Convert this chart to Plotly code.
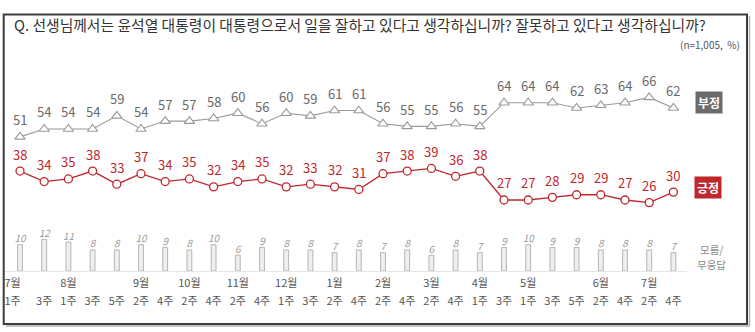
import plotly.graph_objects as go

# Survey waves (month / week of month)
months = ["7월", "", "8월", "", "", "9월", "", "10월", "", "11월", "", "12월", "", "1월", "",
          "2월", "", "3월", "", "4월", "", "5월", "", "", "6월", "", "7월", ""]
weeks = ["1주", "3주", "1주", "3주", "5주", "2주", "4주", "2주", "4주", "2주", "4주", "1주", "3주", "2주", "4주",
         "2주", "4주", "2주", "4주", "1주", "3주", "1주", "3주", "5주", "2주", "4주", "2주", "4주"]

# Job rating, %
negative = [51, 54, 54, 54, 59, 54, 57, 57, 58, 60, 56, 60, 59, 61, 61,
            56, 55, 55, 56, 55, 64, 64, 64, 62, 63, 64, 66, 62]
positive = [38, 34, 35, 38, 33, 37, 34, 35, 32, 34, 35, 32, 33, 32, 31,
            37, 38, 39, 36, 38, 27, 27, 28, 29, 29, 27, 26, 30]
unknown = [10, 12, 11, 8, 8, 10, 9, 8, 10, 6, 9, 8, 8, 7, 8,
           7, 8, 6, 8, 7, 9, 10, 9, 9, 8, 8, 8, 7]

W, H = 755, 332
L, R, T, B = 4, 68, 0, 61
PW, PH = W - L - R, H - T - B
X0, DX = 20, 24.2          # pixel position of first wave, spacing
PX_PER_UNIT = 2.63

FONT = "Noto Sans CJK KR"
GRAY_LINE = "#9a9a9a"
GRAY_TEXT = "#6a6a6a"
RED = "#c0272d"
TICK_COLOR = "#555555"

x = list(range(len(weeks)))
NB = "\u00a0" * 6  # pads the first tick so it sits left of its wave


def px(xp):
    return (xp - L) / PW


def py(yp):
    return (H - B - yp) / PH


fig = go.Figure()

fig.add_trace(go.Bar(
    x=x, y=unknown, width=0.2,
    marker=dict(color="#efefef", line=dict(color="#b5b5b5", width=1)),
    hoverinfo="skip",
))
fig.add_trace(go.Scatter(
    x=x, y=unknown, mode="text", text=[str(v) for v in unknown],
    textposition="top center",
    textfont=dict(family=FONT, size=10, color="#9a9a9a", style="italic"),
    hoverinfo="skip", cliponaxis=False,
))
fig.add_trace(go.Scatter(
    x=x, y=negative, mode="lines+markers",
    line=dict(color=GRAY_LINE, width=1.1),
    marker=dict(symbol="triangle-up", size=9, color="white",
                line=dict(color=GRAY_LINE, width=1.1)),
    cliponaxis=False,
))
fig.add_trace(go.Scatter(
    x=x, y=positive, mode="lines+markers",
    line=dict(color=RED, width=1.3),
    marker=dict(symbol="circle", size=8, color="white",
                line=dict(color=RED, width=1.3)),
    cliponaxis=False,
))
# invisible trace that carries the month axis
fig.add_trace(go.Scatter(x=x, y=[None] * len(x), xaxis="x2", mode="markers",
                         hoverinfo="skip", showlegend=False))

annotations = []
for i, v in enumerate(negative):
    annotations.append(dict(x=i, y=v, text=str(v), showarrow=False, yshift=17,
                            font=dict(family=FONT, size=13, color=GRAY_TEXT)))
for i, v in enumerate(positive):
    annotations.append(dict(x=i, y=v, text=str(v), showarrow=False, yshift=17,
                            font=dict(family=FONT, size=13, color=RED)))

annotations += [
    dict(xref="paper", yref="paper", x=px(12), y=py(25), xanchor="left", yanchor="middle",
         text="Q. 선생님께서는 윤석열 대통령이 대통령으로서 일을 잘하고 있다고 생각하십니까? 잘못하고 있다고 생각하십니까?",
         showarrow=False, font=dict(family=FONT, size=14.8, color="#333333")),
    dict(xref="paper", yref="paper", x=px(742), y=py(45), xanchor="right", yanchor="middle",
         text="(n=1,005,  %)", showarrow=False, font=dict(family=FONT, size=10, color="#555555")),
    dict(xref="paper", yref="paper", x=px(709.5), y=py(102), xanchor="center", yanchor="middle",
         text="<b>부정</b>", showarrow=False, bgcolor="#6b6b6b", borderpad=2,
         font=dict(family=FONT, size=12, color="white")),
    dict(xref="paper", yref="paper", x=px(708), y=py(187), xanchor="center", yanchor="middle",
         text="<b>긍정</b>", showarrow=False, bgcolor=RED, borderpad=2,
         font=dict(family=FONT, size=12, color="white")),
    dict(xref="paper", yref="paper", x=px(711), y=py(250), xanchor="center", yanchor="middle",
         text="모름/", showarrow=False,
         font=dict(family=FONT, size=10.5, color="#8a8a8a")),
    dict(xref="paper", yref="paper", x=px(711), y=py(264), xanchor="center", yanchor="middle",
         text="무응답", showarrow=False,
         font=dict(family=FONT, size=10.5, color="#8a8a8a")),
]

week_text = [w + (NB if i == 0 else "") for i, w in enumerate(weeks)]
month_text = [(m + (NB if i == 0 else "")) if m else "" for i, m in enumerate(months)]

shapes = [
    # frame shadow
    dict(type="line", xref="paper", yref="paper", x0=px(749.5), x1=px(749.5),
         y0=py(16), y1=py(326), line=dict(color="#b0b0b0", width=1.5)),
    dict(type="line", xref="paper", yref="paper", x0=px(6), x1=px(749.5),
         y0=py(326), y1=py(326), line=dict(color="#b0b0b0", width=1.5)),
    # frame
    dict(type="rect", xref="paper", yref="paper", x0=px(3.7), x1=px(747),
         y0=py(324), y1=py(14.5), line=dict(color="#3c3c3c", width=2)),
]

xrange_ = [(L - X0) / DX, (L + PW - X0) / DX]

fig.update_layout(
    width=W, height=H,
    margin=dict(l=L, r=R, t=T, b=B, pad=0),
    paper_bgcolor="white", plot_bgcolor="white",
    showlegend=False,
    annotations=annotations,
    shapes=shapes,
    xaxis=dict(
        range=xrange_,
        tickmode="array", tickvals=x, ticktext=week_text, tickangle=0,
        tickfont=dict(family=FONT, size=11, color=TICK_COLOR),
        ticklabelstandoff=20,
        showgrid=False, zeroline=False, showline=True, linecolor="#e6e6e6", linewidth=1,
        ticks="", fixedrange=True,
    ),
    xaxis2=dict(
        range=xrange_, overlaying="x", side="bottom", matches="x",
        tickmode="array", tickvals=x, ticktext=month_text, tickangle=0,
        tickfont=dict(family=FONT, size=11, color=TICK_COLOR),
        ticklabelstandoff=4,
        showgrid=False, zeroline=False, showline=False, ticks="", fixedrange=True,
    ),
    yaxis=dict(
        range=[0, PH / PX_PER_UNIT], visible=False, showgrid=False, zeroline=False,
        fixedrange=True,
    ),
)

fig.write_html("out.html")
